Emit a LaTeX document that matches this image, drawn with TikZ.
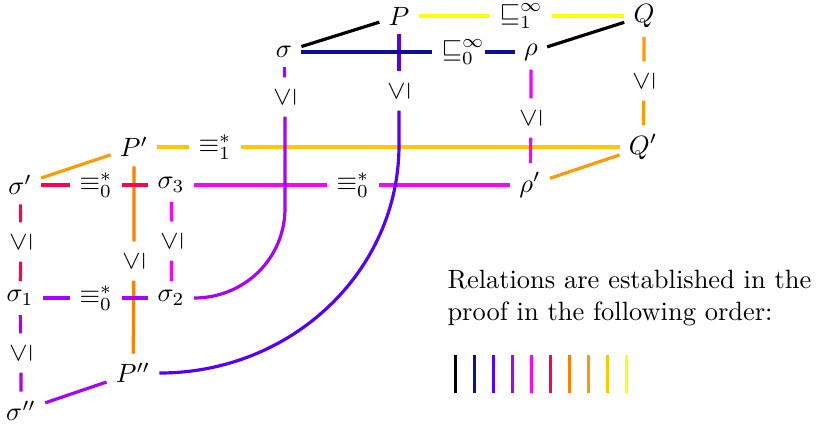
\documentclass[tikz,border=0pt]{standalone}
\usepackage{amssymb}
\definecolor{c1}{RGB}{0,0,0}
\definecolor{c2}{RGB}{15,15,150}
\definecolor{c3}{RGB}{85,0,255}
\definecolor{c4}{RGB}{170,0,255}
\definecolor{c5}{RGB}{255,0,255}
\definecolor{c6}{RGB}{255,0,85}
\definecolor{c7}{RGB}{255,128,0}
\definecolor{c8}{RGB}{255,155,0}
\definecolor{c9}{RGB}{255,200,0}
\definecolor{c10}{RGB}{255,255,0}
\begin{document}
\begin{tikzpicture}[x=0.3781pt,y=-0.3781pt,
  rel/.style={line width=1.2pt},
  le/.style={rotate=90}]
\useasboundingbox (0,0) rectangle (816,429);
% main nodes
\node (P) at (399,16) {$P$};
\node (Q) at (644,16) {$Q$};
\node (sig) at (284,52) {$\sigma$};
\node (rho) at (531,52) {$\rho$};
\node (Pp) at (134,147) {$P'$};
\node (Qp) at (643,147) {$Q'$};
\node (sigp) at (20,185) {$\sigma'$};
\node (sig3) at (171,185) {$\sigma_3$};
\node (rhop) at (530,185) {$\rho'$};
\node (sig1) at (20,298) {$\sigma_1$};
\node (sig2) at (171,298) {$\sigma_2$};
\node (Ppp) at (133,373) {$P''$};
\node (sigpp) at (21,411) {$\sigma''$};
% relation labels
\node (lsq1) at (521,16) {$\sqsubseteq_1^\infty$};
\node (lsq0) at (463,52) {$\sqsubseteq_0^\infty$};
\node (leq1) at (215,147) {$\equiv_1^*$};
\node (leqa) at (96,185) {$\equiv_0^*$};
\node (leqb) at (353,185) {$\equiv_0^*$};
\node (leqc) at (96,298) {$\equiv_0^*$};
\node[le] (lsig) at (285,97) {$\leq$};
\node[le] (lP) at (399,91) {$\leq$};
\node[le] (lrho) at (531,118) {$\leq$};
\node[le] (lQ) at (644,81) {$\leq$};
\node[le] (lsp) at (21,242) {$\leq$};
\node[le] (ls3) at (172,241) {$\leq$};
\node[le] (lPp) at (134,261) {$\leq$};
\node[le] (ls1) at (21,353) {$\leq$};
% connectors (later relations first, so earlier ones lie on top)
\draw[rel,c10] (P) -- (lsq1) (lsq1) -- (Q);
\draw[rel,c9] (Pp) -- (leq1) (leq1) -- (Qp);
\draw[rel,c8] (sigp) -- (Pp);
\draw[rel,c8] (Q) -- (lQ) (lQ) -- (Qp);
\draw[rel,c8] (rhop) -- (Qp);
\draw[rel,c7] (Pp) -- (lPp) (lPp) -- (Ppp);
\draw[rel,c6] (sigp) -- (leqa) (leqa) -- (sig3);
\draw[rel,c6] (sigp) -- (lsp) (lsp) -- (sig1);
\draw[rel,c5] (sig3) -- (leqb) (leqb) -- (rhop);
\draw[rel,c5] (rho) -- (lrho) (lrho) -- (rhop);
\draw[rel,c5] (sig3) -- (ls3) (ls3) -- (sig2);
\draw[rel,c4] (sig) -- (lsig);
\draw[rel,c4] (lsig) -- (285,208) .. controls (285,258) and (245,298) .. (sig2);
\draw[rel,c4] (sig1) -- (leqc) (leqc) -- (sig2);
\draw[rel,c4] (sig1) -- (ls1) (ls1) -- (sigpp);
\draw[rel,c4] (sigpp) -- (Ppp);
\draw[rel,c3] (P) -- (lP);
\draw[rel,c3] (lP) -- (399,145) .. controls (399,271) and (292,373) .. (Ppp);
\draw[rel,c2] (sig) -- (lsq0);
\draw[rel,c2] ([xshift=-3.3pt]lsq0.east) -- (rho);
\draw[rel,c1] (sig) -- (P);
\draw[rel,c1] (rho) -- (Q);
% legend
\node[anchor=north west, inner sep=0pt, align=left] (txt) at (447,270)
  {Relations are established in the\\proof in the following order:};
\foreach \i/\c in {0/c1,1/c2,2/c3,3/c4,4/c5,5/c6,6/c7,7/c8,8/c9,9/c10}
  \draw[rel,\c] (455.3+19*\i,355) -- ++(0,38);
\end{tikzpicture}
\end{document}
